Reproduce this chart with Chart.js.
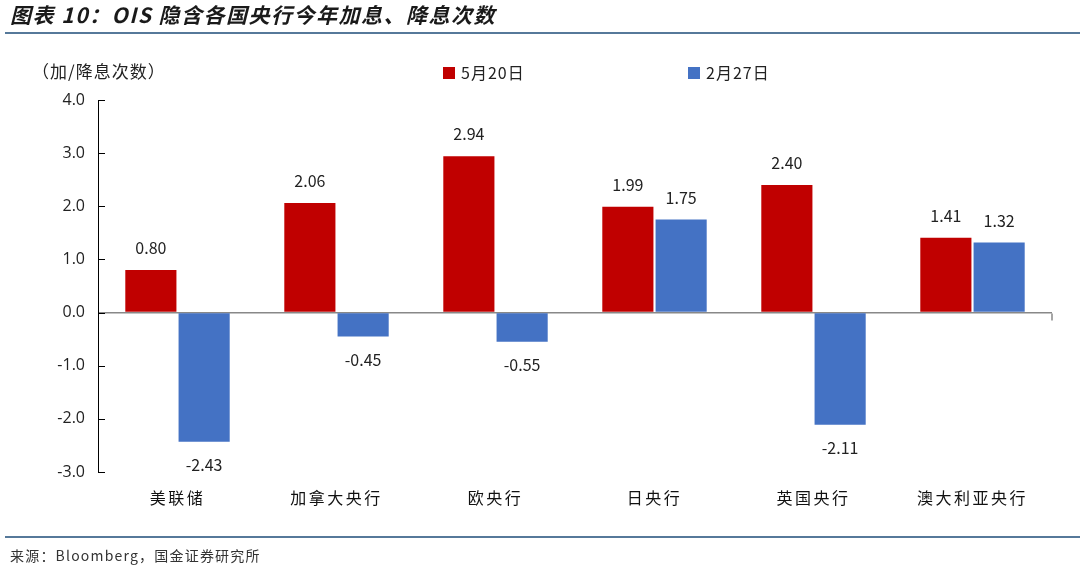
<!DOCTYPE html>
<html>
<head>
<meta charset="utf-8">
<script src="https://cdn.jsdelivr.net/npm/chart.js@4"></script>
<style>
  html, body { margin: 0; padding: 0; background: #fff; }
  #wrap { width: 1080px; height: 569px; }
</style>
</head>
<body>
<div id="wrap"><canvas id="ois" width="1080" height="569"></canvas></div>
<script>
const banks = ["美联储", "加拿大央行", "欧央行", "日央行", "英国央行", "澳大利亚央行"];
const may20 = [0.80, 2.06, 2.94, 1.99, 2.40, 1.41];
const feb27 = [-2.43, -0.45, -0.55, 1.75, -2.11, 1.32];
const seriesNames = ["5月20日", "2月27日"];
const yTicks = [4, 3, 2, 1, 0, -1, -2, -3];

const RED = "#C00000";
const BLUE = "#4472C4";
const CJK = '"Noto Sans CJK SC", "Noto Sans", sans-serif';

// title, lines, legend, value labels etc
const decor = {
  id: "decor",
  // x tick labels are drawn after the datasets (ticks.z: 1), so space them out here
  afterDatasetsDraw(chart) {
    chart.ctx.letterSpacing = "2.5px";
  },
  afterDraw(chart) {
    const ctx = chart.ctx;
    const y = chart.scales.y;
    const area = chart.chartArea;
    ctx.letterSpacing = "0px";
    ctx.save();

    // title
    ctx.fillStyle = "#1a1a1a";
    ctx.font = "italic bold 21px " + CJK;
    ctx.textBaseline = "middle";
    ctx.textAlign = "left";
    ctx.letterSpacing = "1.5px";
    ctx.fillText("图表 10：OIS 隐含各国央行今年加息、降息次数", 10, 15);

    // rules
    ctx.strokeStyle = "#1F4E79";
    ctx.lineWidth = 1.5;
    ctx.beginPath();
    ctx.moveTo(5, 33); ctx.lineTo(1080, 33);
    ctx.moveTo(5, 537); ctx.lineTo(1080, 537);
    ctx.stroke();

    // footer
    ctx.fillStyle = "#333";
    ctx.font = "14px " + CJK;
    ctx.letterSpacing = "1.2px";
    ctx.fillText("来源：Bloomberg，国金证券研究所", 10, 556);

    // y title
    ctx.fillStyle = "#222";
    ctx.font = "17px " + CJK;
    ctx.letterSpacing = "1px";
    ctx.fillText("（加/降息次数）", 32, 72);

    // legend
    const legend = [[443, RED, seriesNames[0]], [688, BLUE, seriesNames[1]]];
    ctx.font = "16px " + CJK;
    legend.forEach(([lx, c, t]) => {
      ctx.fillStyle = c;
      ctx.fillRect(lx, 67, 12, 12);
      ctx.fillStyle = "#222";
      ctx.fillText(t, lx + 18, 73);
    });
    ctx.letterSpacing = "0px";

    // inward tick marks on the y axis
    ctx.strokeStyle = "#000";
    ctx.lineWidth = 1;
    ctx.beginPath();
    yTicks.forEach(v => {
      const py = Math.round(y.getPixelForValue(v)) + 0.5;
      ctx.moveTo(area.left, py);
      ctx.lineTo(area.left + 7, py);
    });
    ctx.stroke();

    // right end tick of the zero line
    const z = Math.round(y.getPixelForValue(0)) + 0.5;
    ctx.strokeStyle = "#888";
    ctx.lineWidth = 1.5;
    ctx.beginPath();
    ctx.moveTo(area.right, z);
    ctx.lineTo(area.right, z + 7);
    ctx.stroke();

    // value labels
    ctx.fillStyle = "#222";
    ctx.font = "16px " + CJK;
    ctx.textAlign = "center";
    chart.data.datasets.forEach((ds, i) => {
      chart.getDatasetMeta(i).data.forEach((bar, j) => {
        const v = ds.data[j];
        const ty = v >= 0 ? bar.y - 22 : bar.y + 23;
        ctx.fillText(v.toFixed(2), bar.x, ty);
      });
    });
    ctx.restore();
  }
};

new Chart(document.getElementById("ois").getContext("2d"), {
  type: "bar",
  data: {
    labels: banks,
    datasets: [
      { label: seriesNames[0], data: may20, backgroundColor: RED },
      { label: seriesNames[1], data: feb27, backgroundColor: BLUE }
    ]
  },
  options: {
    responsive: false,
    animation: false,
    datasets: {
      bar: { categoryPercentage: 0.67, barPercentage: 0.96 }
    },
    layout: { padding: { top: 100, right: 28, bottom: 57, left: 0 } },
    plugins: {
      legend: { display: false },
      tooltip: { enabled: false }
    },
    scales: {
      x: {
        grid: { display: false, drawTicks: false },
        border: { display: false },
        ticks: {
          z: 1,
          padding: 16,
          color: "#111",
          font: { family: CJK, size: 16 }
        },
        afterFit(scale) { scale.height = 40; }
      },
      y: {
        min: -3,
        max: 4,
        afterBuildTicks(scale) {
          scale.ticks = yTicks.map(v => ({ value: v }));
        },
        grid: {
          drawTicks: false,
          color: c => (c.tick && c.tick.value === 0 ? "#888" : "transparent"),
          lineWidth: c => (c.tick && c.tick.value === 0 ? 1.5 : 0)
        },
        border: { display: true, color: "#000", width: 1 },
        ticks: {
          padding: 13,
          color: "#222",
          font: { family: '"Open Sans", "Noto Sans", sans-serif', size: 16 },
          callback: v => v.toFixed(1)
        },
        afterFit(scale) { scale.width = 98; }
      }
    }
  },
  plugins: [decor]
});
</script>
</body>
</html>
